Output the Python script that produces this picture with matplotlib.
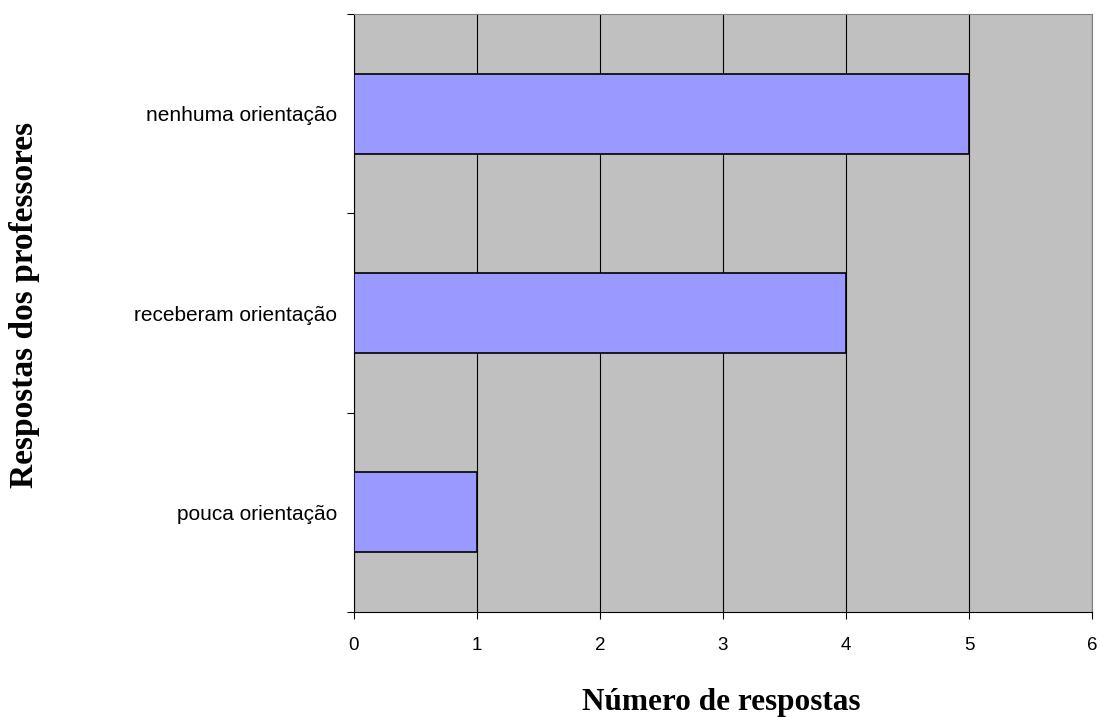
import numpy as np
import matplotlib.pyplot as plt

categorias = ['pouca orientação', 'receberam orientação', 'nenhuma orientação']
respostas = [1, 4, 5]

fig = plt.figure(figsize=(11, 7.17), dpi=100)
ax = fig.add_axes([0.3218, 0.1464, 0.6709, 0.8341])
ax.set_facecolor('#c0c0c0')

pos = np.arange(len(categorias))
ax.barh(pos, respostas, height=0.4, color='#9999ff', edgecolor='black', linewidth=1.2, zorder=3)

ax.set_xlim(0, 6)
ax.set_ylim(-0.5, len(categorias) - 0.5)
ax.set_xticks(range(0, 7))
ax.xaxis.grid(True, color='black', linewidth=0.8, zorder=1)
ax.set_axisbelow(True)

# category labels centred, ticks at boundaries
ax.set_yticks(np.arange(-0.5, len(categorias), 1.0))
ax.set_yticklabels([])
ax.set_yticks(pos, minor=True)
ax.set_yticklabels(categorias, minor=True, fontsize=15, family='Liberation Sans')
ax.tick_params(axis='y', which='minor', length=0, pad=12)
ax.tick_params(axis='y', which='major', length=5, direction='out')
ax.tick_params(axis='x', length=5, direction='out', pad=13)
for lbl in ax.get_xticklabels():
    lbl.set_fontsize(13.5)
    lbl.set_family('Liberation Sans')

ax.spines['top'].set_color('#808080')
ax.spines['right'].set_color('#808080')
ax.spines['left'].set_color('black')
ax.spines['bottom'].set_color('black')

fig.text(0.656, 0.02, 'Número de respostas', ha='center', va='center',
         fontsize=22.5, fontweight='bold', family='Liberation Serif')
fig.text(0.022, 0.575, 'Respostas dos professores', ha='center', va='center',
         rotation=90, fontsize=24, fontweight='bold', family='Liberation Serif')

fig.savefig('out.png', dpi=100)
